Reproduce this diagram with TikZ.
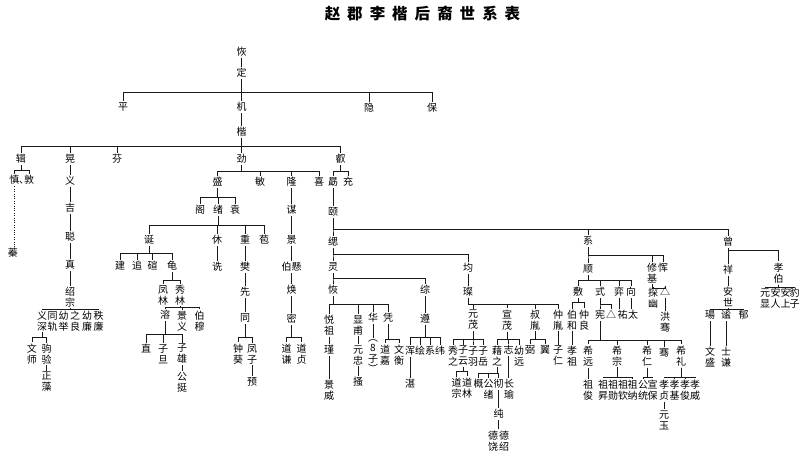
\documentclass[tikz,border=0pt]{standalone}
\usepackage{fontspec}
\newfontfamily\cjk{Noto Sans CJK SC}
\tikzset{
  nm/.style={inner sep=1.2pt, font=\cjk\fontsize{10}{11}\selectfont, text height=8.6pt, text depth=1.4pt},
  vn/.style={inner sep=1.2pt, font=\cjk\fontsize{10}{11}\selectfont, align=center},
  ln/.style={line width=0.75pt, draw=black!90},
  ttl/.style={inner sep=0pt, font=\cjk\bfseries\fontsize{15.5}{15.5}\selectfont},
}
\newcommand\kids[3]{\foreach \kid in {#3}{\draw[ln] (#1.south) -- (#1.south |- 0,#2) -| (\kid.north);}}
\begin{document}
\begin{tikzpicture}[x=1pt,y=-1pt]
\fill[white] (0,0) rectangle (800,457);
\useasboundingbox (0,0) rectangle (800,457);
\node[ttl] (title) at (422.5,13) {赵\kern7pt 郡\kern7pt 李\kern7pt 楷\kern7pt 后\kern7pt 裔\kern7pt 世\kern7pt 系\kern7pt 表};
% top
\node[nm] (hui1) at (241.7,51.7) {恢};
\node[nm] (ding) at (241.7,73) {定};
\node[nm] (ping) at (123,107) {平};
\node[nm] (ji1) at (241.7,107) {机};
\node[nm] (yin) at (369,108) {隐};
\node[nm] (bao) at (432,108) {保};
\node[nm] (kai) at (241.7,132) {楷};
\node[nm] (ji2) at (21,159) {辑};
\node[nm] (huang) at (70,159) {晃};
\node[nm] (fen) at (117,159) {芬};
\node[nm] (jin) at (241.7,159) {劲};
\node[nm] (rui) at (340.7,159) {叡};
% ji2
\node[nm] (shen) at (14.3,180) {慎};
\node[nm] (dh) at (24,180) {、};
\node[nm] (dun) at (29,180) {敦};
\node[nm] (zhen) at (13,253) {蓁};
% huang
\node[nm] (yi) at (70,181) {义};
\node[nm] (ji3) at (70,208) {吉};
\node[nm] (cong) at (70,237) {聪};
\node[nm] (zhen2) at (70,265) {真};
\node[vn] (shaozong) at (70,297) {绍\\宗};
\node[vn] (yishen) at (42,321) {义\\深};
\node[vn] (tonggui) at (52.5,321) {同\\轨};
\node[vn] (youju) at (63.5,321) {幼\\举};
\node[vn] (zhiliang) at (75,321) {之\\良};
\node[vn] (youlian) at (87,321) {幼\\廉};
\node[vn] (zhilian) at (98.5,321) {秩\\廉};
\node[vn] (wenshi) at (32,354) {文\\师};
\node[vn] (jutu) at (46.5,354) {驹\\验};
\node[vn] (zhengzao) at (46.5,382) {正\\藻};
% jin
\node[nm] (sheng) at (217.7,182) {盛};
\node[nm] (min) at (260,182) {敏};
\node[nm] (long) at (291.7,182) {隆};
\node[nm] (xi) at (319,182) {喜};
\node[nm] (ge) at (200,210) {阁};
\node[nm] (xu) at (218,210) {绪};
\node[nm] (yuan) at (235,210) {袁};
\node[nm] (dan) at (149,240) {诞};
\node[nm] (xiu) at (217,240) {休};
\node[nm] (zhong) at (245,240) {重};
\node[nm] (bao2) at (264,240) {苞};
\node[nm] (jian) at (120,266) {建};
\node[nm] (zhui) at (137,266) {追};
\node[nm] (xuan) at (152.5,266) {碹};
\node[nm] (gui) at (172,266) {龟};
\node[vn] (fenglin) at (163,295) {凤\\林};
\node[vn] (xiulin) at (180,295) {秀\\林};
\node[nm] (rong) at (165,315) {溶};
\node[vn] (jingyi) at (182,321) {景\\义};
\node[vn] (bomu) at (199.5,321) {伯\\穆};
\node[nm] (zhi) at (146,349) {直};
\node[vn] (zidan) at (163,354) {子\\旦};
\node[vn] (zixiong) at (182,354) {子\\雄};
\node[vn] (gongting) at (182,382) {公\\挺};
\node[nm] (shen2) at (217,267) {诜};
\node[nm] (fan) at (245,267) {樊};
\node[nm] (xian) at (245,292) {先};
\node[nm] (jiong) at (245,318) {同};
\node[vn] (zhongkui) at (238,354) {钟\\葵};
\node[vn] (fengzi) at (252,354) {凤\\子};
\node[nm] (yu) at (252,382) {预};
\node[nm] (mou) at (291.7,210) {谋};
\node[nm] (jing) at (291.7,240) {景};
\node[nm] (boyuan) at (291.7,267) {伯懸};
\node[nm] (huan) at (291.7,290) {焕};
\node[nm] (mi) at (291.7,319) {密};
\node[vn] (daoqian) at (286.5,354) {道\\谦};
\node[vn] (daozhen) at (301.5,354) {道\\贞};
% rui
\node[nm] (xu2) at (333,182) {勗};
\node[nm] (chong) at (348,182) {充};
\node[nm] (yi2) at (333,212) {颐};
\node[nm] (si) at (333,242) {缌};
\node[nm] (xi2) at (588,241) {系};
\node[nm] (zeng) at (728,242) {曾};
\node[nm] (ling) at (333,267) {灵};
\node[nm] (jun) at (468,268) {均};
\node[nm] (hui2) at (333,290) {恢};
\node[nm] (zong) at (425,290) {综};
\node[vn] (yuezu) at (329,325) {悦\\祖};
\node[vn] (xianfu) at (358,325) {显\\甫};
\node[nm] (hua) at (373,318) {华};
\node[nm] (ping2) at (388,318) {凭};
\node[nm] (jin2) at (329,350) {瑾};
\node[vn] (jingwei) at (329,390) {景\\威};
\node[vn] (yuanzhong) at (358,355) {元\\忠};
\node[nm] (sao) at (358,382) {搔};
\node[vn, font=\cjk\fontsize{10}{10.5}\selectfont] (bazi) at (373,356) {︵\\8\\子\\︶};
\node[vn] (daojia) at (385,355) {道\\嘉};
\node[vn] (wenheng) at (399,355) {文\\衡};
\node[nm] (zun) at (425,319) {遵};
\node[nm] (hun) at (410,351) {浑};
\node[nm] (hui3) at (420,351) {绘};
\node[nm] (xi3) at (430,351) {系};
\node[nm] (wei) at (440,351) {纬};
\node[nm] (chen) at (410,384) {湛};
\node[nm] (can) at (468,292) {璨};
\node[vn] (yuanmao) at (473,320) {元\\茂};
\node[vn] (xuanmao) at (507,320) {宣\\茂};
\node[vn] (shuyin) at (535,320) {叔\\胤};
\node[vn] (zhongyin) at (558,320) {仲\\胤};
\node[vn] (xiuzhi) at (453,356) {秀\\之};
\node[vn] (ziyun) at (463,356) {子\\云};
\node[vn] (ziyu) at (473,356) {子\\羽};
\node[vn] (ziyue) at (483,356) {子\\岳};
\node[vn] (daozong) at (456.5,388) {道\\宗};
\node[vn] (daolin) at (467,388) {道\\林};
\node[vn] (jiezhi) at (497,356) {藉\\之};
\node[nm] (zhi2) at (508.5,350) {志};
\node[vn] (youyuan) at (519,356) {幼\\远};
\node[nm] (gai) at (478.5,384) {概};
\node[vn] (gongxu) at (488.5,389) {公\\绪};
\node[nm] (che) at (498.5,384) {彻};
\node[vn] (changyu) at (509,389) {长\\瑜};
\node[nm] (chun) at (498.5,414) {纯};
\node[vn] (dexiao) at (493,441) {德\\饶};
\node[vn] (deshao) at (504,441) {德\\绍};
\node[nm] (bi) at (530,350) {弼};
\node[nm] (yi3) at (545,350) {翼};
\node[vn] (ziren) at (558,356) {子\\仁};
% xi2
\node[nm] (shun) at (588,269) {顺};
\node[vn] (xiuji) at (652,273) {修\\基};
\node[nm] (yun) at (663,268) {恽};
\node[vn] (tanyou) at (653,298) {探\\幽};
\node[nm] (tri1) at (665,292) {△};
\node[vn] (honglian) at (665,322) {洪\\骞};
\node[nm] (fu) at (578,292) {敷};
\node[nm] (shi) at (600,292) {式};
\node[nm] (yi4) at (619,292) {弈};
\node[nm] (xiang) at (631,292) {向};
\node[vn] (bohe) at (572,320) {伯\\和};
\node[vn] (zhongliang) at (584,320) {仲\\良};
\node[vn] (xiaozu) at (572,356) {孝\\祖};
\node[nm] (xian2) at (600,315) {宪};
\node[nm] (tri2) at (611,315) {△};
\node[nm] (you) at (622.5,315) {祐};
\node[nm] (tai) at (633,315) {太};
\node[vn] (xiyuan) at (588,356) {希\\远};
\node[vn] (xizong) at (617,356) {希\\宗};
\node[vn] (xiren) at (647,356) {希\\仁};
\node[nm] (qian) at (664,353) {骞};
\node[vn] (xili) at (681,356) {希\\礼};
\node[vn] (zujun) at (588,390) {祖\\俊};
\node[vn] (zusheng) at (603,390) {祖\\昇};
\node[vn] (zuxun) at (613,390) {祖\\勋};
\node[vn] (zuqin) at (623,390) {祖\\钦};
\node[vn] (zuna) at (632.5,390) {祖\\纳};
\node[vn] (gongtong) at (643,390) {公\\统};
\node[vn] (xuanbao) at (652.5,390) {宣\\保};
\node[vn] (xiaozhen) at (664,390) {孝\\贞};
\node[vn] (xiaoji) at (674.5,390) {孝\\基};
\node[vn] (xiaojun) at (685,390) {孝\\俊};
\node[vn] (xiaowei) at (695,390) {孝\\威};
\node[vn] (yuanyu) at (664,420) {元\\玉};
% zeng
\node[nm] (xiang2) at (728,270) {祥};
\node[vn] (xiaobo) at (778.5,273) {孝\\伯};
\node[vn] (anshi) at (728,297) {安\\世};
\node[nm] (yang) at (710,315) {瑒};
\node[nm] (mi2) at (726,315) {谧};
\node[nm] (yu2) at (743.5,315) {郁};
\node[vn] (wensheng) at (710,357) {文\\盛};
\node[vn] (shiqian) at (726,357) {士\\谦};
\node[vn] (yuanxian) at (765,298) {元\\显};
\node[vn] (anren) at (775.5,298) {安\\人};
\node[vn] (anshang) at (785.5,298) {安\\上};
\node[vn] (baozi) at (794.5,298) {豹\\子};
% chains
\foreach \pp/\qq in {hui1/ding, ji1/kai, huang/yi, yi/ji3, ji3/cong, cong/zhen2, zhen2/shaozong,
  jutu/zhengzao, zixiong/gongting, xiu/shen2, zhong/fan, fan/xian, xian/jiong, fengzi/yu,
  long/mou, mou/jing, jing/boyuan, boyuan/huan, huan/mi, xu2/yi2,
  yuezu/jin2, jin2/jingwei, xianfu/yuanzhong, yuanzhong/sao, hua/bazi,
  zong/zun, hun/chen, jun/can, zhi2/changyu, che/chun, zhongyin/ziren,
  tri1/honglian, bohe/xiaozu, yi4/you, xiang/tai, xiyuan/zujun, xiaozhen/yuanyu,
  xiang2/anshi, yang/wensheng, mi2/shiqian}
  {\draw[ln] (\pp.south) -- (\pp.south |- \qq.north);}
\draw[ln] (chun.south) -- (chun.south |- dexiao.north);
\draw[ln, dash pattern=on 0.8pt off 1.6pt] (shen.south) -- (shen.south |- zhen.north);
% families
\kids{ding}{92}{ping,ji1,yin,bao}
\kids{kai}{146}{ji2,huang,fen,jin,rui}
\kids{ji2}{170}{shen,dun}
\kids{shaozong}{309}{yishen,tonggui,youju,zhiliang,youlian,zhilian}
\kids{yishen}{337}{wenshi,jutu}
\kids{jin}{171}{sheng,min,long,xi}
\kids{sheng}{197}{ge,xu,yuan}
\kids{xu}{225}{dan,xiu,zhong,bao2}
\kids{dan}{253}{jian,zhui,xuan,gui}
\kids{gui}{280}{fenglin,xiulin}
\kids{xiulin}{307}{rong,jingyi,bomu}
\kids{rong}{334}{zhi,zidan,zixiong}
\kids{jiong}{337}{zhongkui,fengzi}
\kids{mi}{337}{daoqian,daozhen}
\kids{rui}{171}{xu2,chong}
\kids{yi2}{229}{si,xi2,zeng}
\kids{si}{254}{ling,jun}
\kids{ling}{278}{hui2,zong}
\kids{hui2}{304}{yuezu,xianfu,hua,ping2}
\kids{ping2}{339}{daojia,wenheng}
\kids{zun}{337}{hun,hui3,xi3,wei}
\kids{can}{304}{yuanmao,xuanmao,shuyin,zhongyin}
\kids{yuanmao}{339}{xiuzhi,ziyun,ziyu,ziyue}
\kids{ziyun}{371}{daozong,daolin}
\kids{xuanmao}{339}{jiezhi,zhi2,youyuan}
\kids{jiezhi}{373}{gai,gongxu,che}
\kids{shuyin}{339}{bi,yi3}
\kids{xi2}{255}{shun,xiuji,yun}
\kids{xiuji}{288}{tanyou,tri1}
\kids{shun}{280}{fu,shi,yi4,xiang}
\kids{fu}{302}{bohe,zhongliang}
\kids{shi}{304}{xian2,tri2}
\kids{xian2}{340}{xiyuan,xizong,xiren,qian,xili}
\kids{xizong}{377}{zusheng,zuxun,zuqin,zuna}
\kids{xiren}{377}{gongtong,xuanbao}
\kids{xili}{377}{xiaozhen,xiaoji,xiaojun,xiaowei}
\kids{zeng}{250}{xiang2,xiaobo}
\kids{anshi}{309}{yang,mi2,yu2}
\kids{xiaobo}{287}{yuanxian,anren,anshang,baozi}
\end{tikzpicture}
\end{document}
